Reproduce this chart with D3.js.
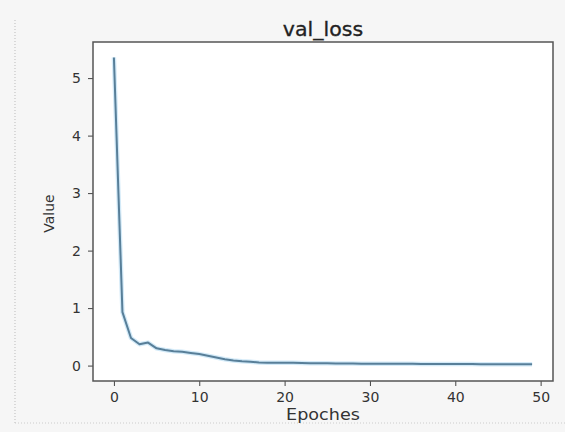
<!DOCTYPE html>
<html><head><meta charset="utf-8">
<script src="https://cdn.jsdelivr.net/npm/d3@7"></script>
<style>html,body{margin:0;padding:0;background:#f6f6f6;}svg{display:block;font-family:"DejaVu Sans",sans-serif;}</style>
</head><body>
<svg id="c" width="565" height="432"></svg>
<script>
const epochs = d3.range(50);
const valLoss = [5.36,0.93,0.48,0.37,0.40,0.30,0.27,0.25,0.24,0.22,0.20,0.17,0.14,0.11,0.09,0.075,0.065,0.055,0.05,0.05,
0.05,0.048,0.045,0.042,0.04,0.04,0.038,0.036,0.035,0.034,0.033,0.032,0.032,0.031,0.03,0.03,0.029,0.028,0.028,0.027,
0.027,0.026,0.026,0.025,0.025,0.024,0.024,0.023,0.023,0.022];
const xTicks = [0,10,20,30,40,50];
const yTicks = [0,1,2,3,4,5];
const title = "val_loss", xLabel = "Epoches", yLabel = "Value";

const svg = d3.select("#c");
// page frame (dotted)
svg.append("line").attr("x1",15).attr("x2",15).attr("y1",20).attr("y2",423).attr("stroke","#bbb").attr("stroke-dasharray","1,2");
svg.append("line").attr("x1",15).attr("x2",565).attr("y1",423).attr("y2",423).attr("stroke","#ccc").attr("stroke-dasharray","1,2");

const L=93,R=553,T=42,B=381;
const x = d3.scaleLinear().domain([-2.45,51.45]).range([L,R]);
const y = d3.scaleLinear().domain([-0.268,5.628]).range([B,T]);

svg.append("rect").attr("x",L).attr("y",T).attr("width",R-L).attr("height",B-T).attr("fill","#fff");

const line = d3.line().x((d,i)=>x(epochs[i])).y(d=>y(d));
svg.append("path").datum(valLoss).attr("d",line).attr("fill","none").attr("stroke","#d3eaf8").attr("stroke-width",4.5).attr("stroke-linejoin","round");
svg.append("path").datum(valLoss).attr("d",line).attr("fill","none").attr("stroke","#587f99").attr("stroke-width",2).attr("stroke-linejoin","round");

const xa = svg.append("g").attr("transform",`translate(0,${B})`).call(d3.axisBottom(x).tickValues(xTicks).tickSize(5).tickPadding(6).tickFormat(d3.format("d")));
const ya = svg.append("g").attr("transform",`translate(${L},0)`).call(d3.axisLeft(y).tickValues(yTicks).tickSize(5).tickPadding(7).tickFormat(d3.format("d")));
[xa,ya].forEach(a=>{a.select(".domain").remove();a.selectAll("text").attr("font-size",14).attr("fill","#333").attr("font-family","DejaVu Sans");a.selectAll("line").attr("stroke","#444");});

svg.append("rect").attr("x",L).attr("y",T).attr("width",R-L).attr("height",B-T).attr("fill","none").attr("stroke","#555").attr("stroke-width",1.5);

svg.append("text").attr("transform",`translate(${(L+R)/2},36) scale(1.08,1)`).attr("text-anchor","middle").attr("font-size",19).attr("fill","#222").attr("stroke","#222").attr("stroke-width",0.3).text(title);
svg.append("text").attr("transform",`translate(${(L+R)/2},420) scale(1.1,1)`).attr("text-anchor","middle").attr("font-size",16).attr("fill","#333").text(xLabel);
svg.append("text").attr("transform",`translate(54,${(T+B)/2+2}) rotate(-90)`).attr("text-anchor","middle").attr("font-size",14).attr("fill","#333").text(yLabel);
</script>
</body></html>
